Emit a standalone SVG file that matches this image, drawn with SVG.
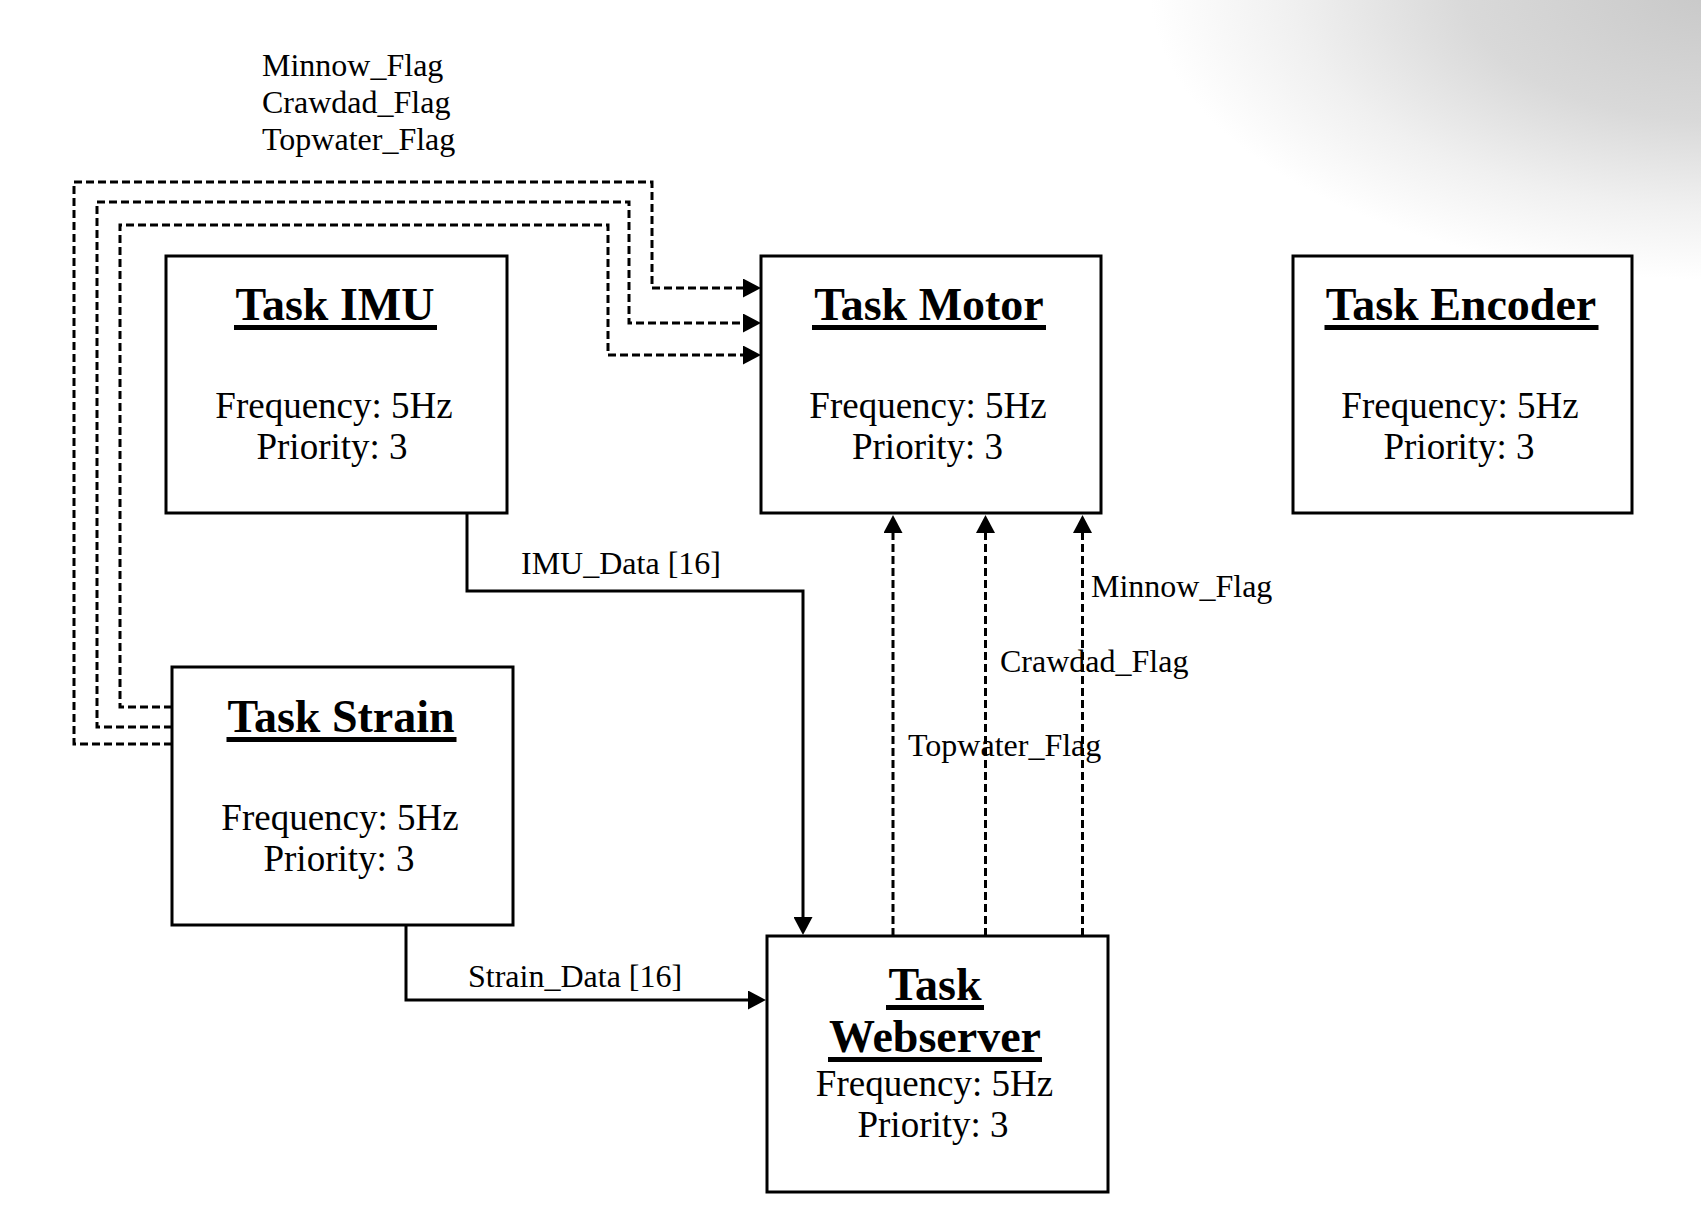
<svg xmlns="http://www.w3.org/2000/svg" width="1701" height="1224" viewBox="0 0 1701 1224">
<style>
.box{fill:#fff;stroke:#000;stroke-width:3}
.title{font-family:"Liberation Serif","Times New Roman",serif;font-weight:bold;font-size:46px;text-anchor:middle;fill:#000}
.body{font-family:"Liberation Serif","Times New Roman",serif;font-size:37px;text-anchor:middle;fill:#000}
.lbl{font-family:"Liberation Serif","Times New Roman",serif;font-size:32px;fill:#000}
.solid{fill:none;stroke:#000;stroke-width:3}
.dash{fill:none;stroke:#000;stroke-width:3;stroke-dasharray:8 4}
.ul{fill:#000}
</style>
<defs>
<radialGradient id="bg" gradientUnits="userSpaceOnUse" cx="0" cy="0" r="1" gradientTransform="translate(1720,-10) scale(570,290)">
<stop offset="0" stop-color="#c8c8c8"/>
<stop offset="0.45" stop-color="#d9d9d9"/>
<stop offset="0.75" stop-color="#f0f0f0"/>
<stop offset="1" stop-color="#ffffff"/>
</radialGradient>
<marker id="ah" markerUnits="userSpaceOnUse" viewBox="0 0 18 19" markerWidth="18" markerHeight="19" refX="0" refY="9.5" orient="auto">
<path d="M0,0 L18,9.5 L0,19 z" fill="#000"/>
</marker>
</defs>
<rect x="0" y="0" width="1701" height="1224" fill="#fff"/>
<rect x="0" y="0" width="1701" height="1224" fill="url(#bg)"/>

<g id="connectors">
<path class="dash" d="M172,744 H74 V182 H652 V288 H743" marker-end="url(#ah)"/>
<path class="dash" d="M172,727 H97 V202 H629 V323 H743" marker-end="url(#ah)"/>
<path class="dash" d="M172,707 H120 V225 H608 V355 H743" marker-end="url(#ah)"/>
<path class="dash" d="M893,936 V533" marker-end="url(#ah)"/>
<path class="dash" d="M985.5,936 V533" marker-end="url(#ah)"/>
<path class="dash" d="M1082.5,936 V533" marker-end="url(#ah)"/>
<path class="solid" d="M467,513 V591 H803 V917" marker-end="url(#ah)"/>
<path class="solid" d="M406,925 V1000 H748" marker-end="url(#ah)"/>
<text class="lbl" x="262" y="76">Minnow_Flag</text>
<text class="lbl" x="262" y="113">Crawdad_Flag</text>
<text class="lbl" x="262" y="150">Topwater_Flag</text>
<text class="lbl" x="521" y="574">IMU_Data [16]</text>
<text class="lbl" x="468" y="987">Strain_Data [16]</text>
<text class="lbl" x="1091" y="597">Minnow_Flag</text>
<text class="lbl" x="1000" y="672">Crawdad_Flag</text>
<text class="lbl" x="908" y="756">Topwater_Flag</text>
</g>

<g id="task-imu">
<rect class="box" x="166" y="256" width="341" height="257"/>
<text class="title" x="335" y="320">Task IMU</text>
<rect class="ul" x="234" y="325" width="203" height="5"/>
<text class="body" x="334" y="418">Frequency: 5Hz</text>
<text class="body" x="332" y="459">Priority: 3</text>
</g>

<g id="task-motor">
<rect class="box" x="761" y="256" width="340" height="257"/>
<text class="title" x="929" y="320">Task Motor</text>
<rect class="ul" x="812" y="325" width="234" height="5"/>
<text class="body" x="928" y="418">Frequency: 5Hz</text>
<text class="body" x="927.5" y="459">Priority: 3</text>
</g>

<g id="task-encoder">
<rect class="box" x="1293" y="256" width="339" height="257"/>
<text class="title" x="1461" y="320">Task Encoder</text>
<rect class="ul" x="1324.5" y="325" width="274" height="5"/>
<text class="body" x="1460" y="418">Frequency: 5Hz</text>
<text class="body" x="1459" y="459">Priority: 3</text>
</g>

<g id="task-strain">
<rect class="box" x="172" y="667" width="341" height="258"/>
<text class="title" x="341" y="732">Task Strain</text>
<rect class="ul" x="226.5" y="737" width="230" height="5"/>
<text class="body" x="340" y="830">Frequency: 5Hz</text>
<text class="body" x="339" y="871">Priority: 3</text>
</g>

<g id="task-webserver">
<rect class="box" x="767" y="936" width="341" height="256"/>
<text class="title" x="935" y="1000">Task</text>
<rect class="ul" x="886" y="1005" width="98" height="5"/>
<text class="title" x="935" y="1052">Webserver</text>
<rect class="ul" x="828" y="1057" width="214" height="5"/>
<text class="body" x="934.5" y="1096">Frequency: 5Hz</text>
<text class="body" x="933" y="1137">Priority: 3</text>
</g>
</svg>
